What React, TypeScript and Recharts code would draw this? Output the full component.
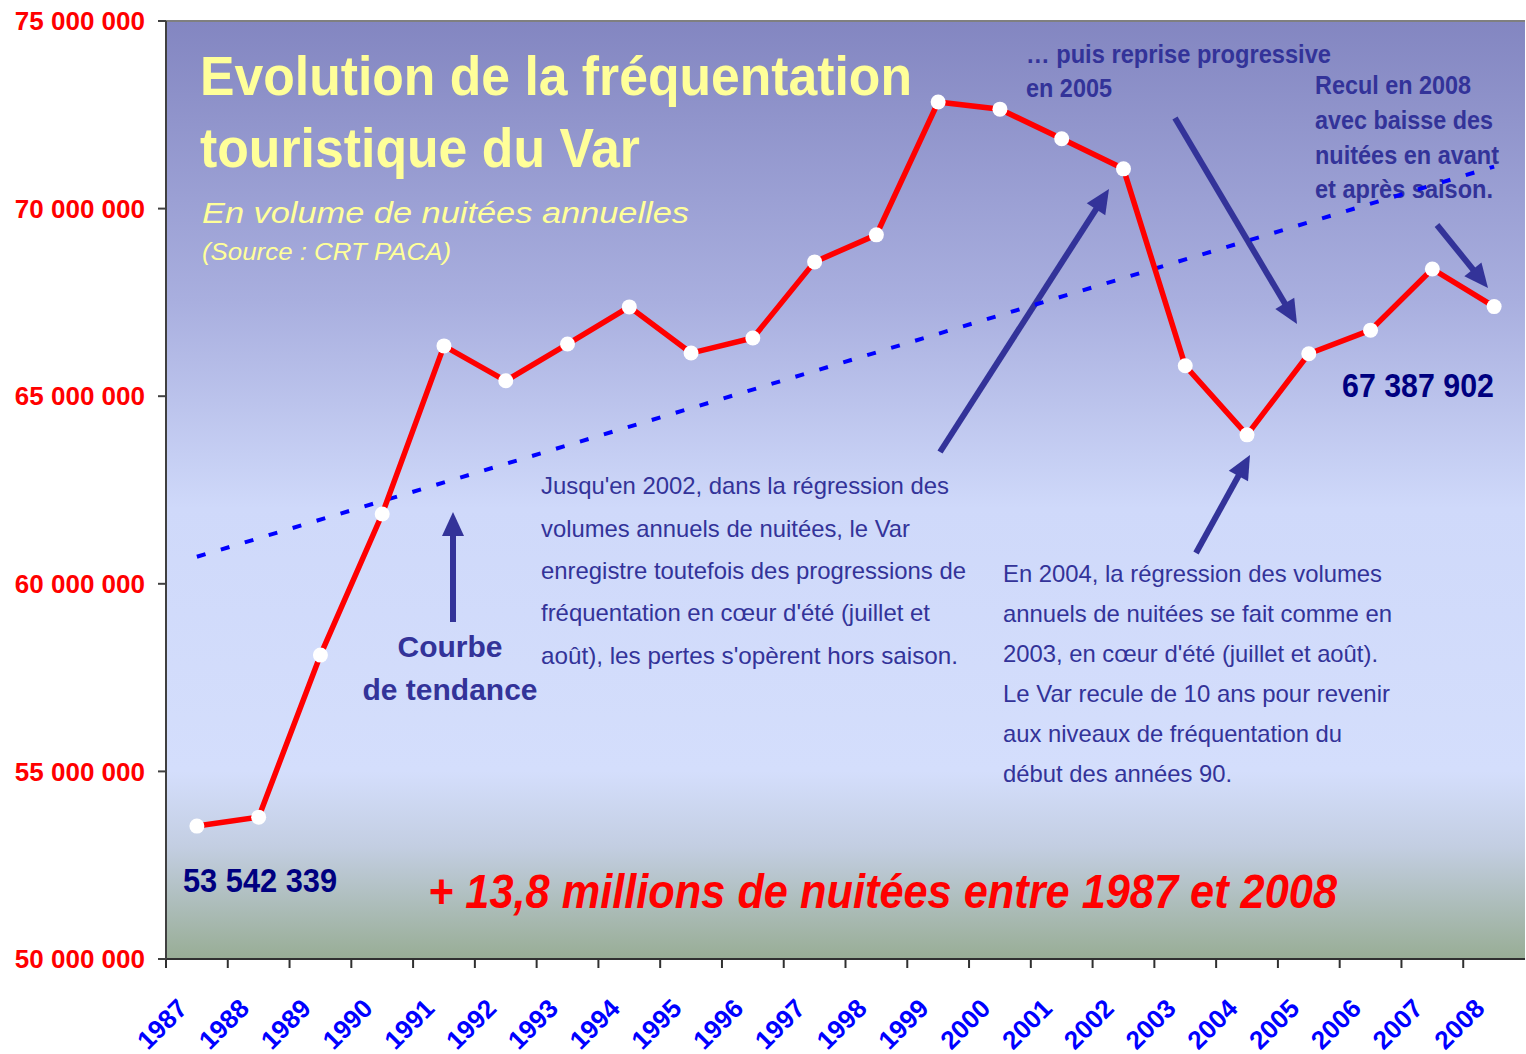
import React from "react";
import { LineChart, Line, XAxis, YAxis, CartesianGrid, ReferenceLine } from "recharts";

const years = [1987, 1988, 1989, 1990, 1991, 1992, 1993, 1994, 1995, 1996, 1997, 1998, 1999, 2000, 2001, 2002, 2003, 2004, 2005, 2006, 2007, 2008];
const nuitees = [53542339, 53780000, 58100000, 61860000, 66340000, 65410000, 66390000, 67380000, 66150000, 66550000, 68580000, 69300000, 72840000, 72650000, 71860000, 71060000, 65810000, 63970000, 66130000, 66760000, 68390000, 67387902];
const trendYears = [1987, 2008];
const trendValues = [60720000, 71120000];
const yTicks = [50000000, 55000000, 60000000, 65000000, 70000000, 75000000];

const data = years.map((y, i) => ({ x: i + 0.5, v: nuitees[i] }));
const trendData = trendYears.map((y, i) => ({ x: years.indexOf(y) + 0.5, t: trendValues[i] }));
const xTicks = years.map((_, i) => i);

const fmt = (v: number) => String(v).replace(/\B(?=(\d{3})+(?!\d))/g, " ");

const FONT = "'Liberation Sans', Arial, sans-serif";

const XTick = (props: any) => {
  const { x, y, payload } = props;
  const label = years[payload.value];
  if (label === undefined) return null;
  return (
    <text
      transform={`translate(${x + 23},${y + 42}) rotate(-45)`}
      textAnchor="end"
      fill="#0000ff"
      fontSize={26}
      fontWeight="bold"
      fontFamily={FONT}
    >
      {label}
    </text>
  );
};

const Arrow = ({ x1, y1, x2, y2 }: { x1: number; y1: number; x2: number; y2: number }) => {
  const dx = x2 - x1;
  const dy = y2 - y1;
  const len = Math.sqrt(dx * dx + dy * dy);
  const ux = dx / len;
  const uy = dy / len;
  const hl = 24;
  const hw = 11;
  const bx = x2 - ux * hl;
  const by = y2 - uy * hl;
  const px = -uy;
  const py = ux;
  return (
    <g>
      <line x1={x1} y1={y1} x2={bx + ux * 2} y2={by + uy * 2} stroke="#333399" strokeWidth={6} />
      <polygon
        points={`${x2},${y2} ${bx + px * hw},${by + py * hw} ${bx - px * hw},${by - py * hw}`}
        fill="#333399"
      />
    </g>
  );
};

const T = ({ x, y, w, size, children, fill = "#333399", bold = false, italic = false, anchor = "start" }: any) => (
  <text
    x={x}
    y={y}
    fontSize={size}
    fill={fill}
    fontFamily={FONT}
    fontWeight={bold ? "bold" : "normal"}
    fontStyle={italic ? "italic" : "normal"}
    textAnchor={anchor}
    textLength={w}
    lengthAdjust="spacingAndGlyphs"
  >
    {children}
  </text>
);

const Annotations = () => (
  <g>
    <T x={200} y={95} w={712} size={56} fill="#ffff99" bold>Evolution de la fréquentation</T>
    <T x={200} y={167} w={440} size={56} fill="#ffff99" bold>touristique du Var</T>
    <T x={202} y={223} w={487} size={29} fill="#ffff99" italic>En volume de nuitées annuelles</T>
    <T x={202} y={260} w={249} size={24} fill="#ffff99" italic>(Source : CRT PACA)</T>

    <T x={1026} y={63} w={305} size={25} bold>… puis reprise progressive</T>
    <T x={1026} y={97} w={86} size={25} bold>en 2005</T>
    <T x={1315} y={94} w={156} size={25} bold>Recul en 2008</T>
    <T x={1315} y={129} w={178} size={25} bold>avec baisse des</T>
    <T x={1315} y={164} w={184} size={25} bold>nuitées en avant</T>
    <T x={1315} y={198} w={178} size={25} bold>et après saison.</T>

    <T x={450} y={657} w={105} size={30} bold anchor="middle">Courbe</T>
    <T x={450} y={700} w={175} size={30} bold anchor="middle">de tendance</T>

    <T x={541} y={494} w={408} size={24}>Jusqu'en 2002, dans la régression des</T>
    <T x={541} y={537} w={369} size={24}>volumes annuels de nuitées, le Var</T>
    <T x={541} y={579} w={425} size={24}>enregistre toutefois des progressions de</T>
    <T x={541} y={621} w={389} size={24}>fréquentation en cœur d'été (juillet et</T>
    <T x={541} y={664} w={417} size={24}>août), les pertes s'opèrent  hors saison.</T>

    <T x={1003} y={582} w={379} size={24}>En 2004, la régression des volumes</T>
    <T x={1003} y={622} w={389} size={24}>annuels de nuitées se fait comme en</T>
    <T x={1003} y={662} w={375} size={24}>2003, en cœur d'été (juillet et août).</T>
    <T x={1003} y={702} w={387} size={24}>Le Var recule de 10 ans pour revenir</T>
    <T x={1003} y={742} w={339} size={24}>aux niveaux de fréquentation du</T>
    <T x={1003} y={782} w={229} size={24}>début des années 90.</T>

    <T x={183} y={892} w={154} size={33} fill="#000080" bold>{fmt(nuitees[0])}</T>
    <T x={1342} y={397} w={152} size={33} fill="#000080" bold>{fmt(nuitees[nuitees.length - 1])}</T>

    <T x={428} y={908} w={909} size={48} fill="#ff0000" bold italic>+ 13,8 millions de nuitées entre 1987 et 2008</T>

    <Arrow x1={453} y1={622} x2={453} y2={512} />
    <Arrow x1={940} y1={452} x2={1109} y2={189} />
    <Arrow x1={1175} y1={118} x2={1297} y2={324} />
    <Arrow x1={1196} y1={553} x2={1250} y2={455} />
    <Arrow x1={1437} y1={225} x2={1488} y2={288} />
  </g>
);

export default function App() {
  return (
    <div style={{ position: "absolute", left: 0, top: 0, width: 1526, height: 1054, background: "#ffffff" }}>
      <LineChart width={1526} height={1054} data={data} margin={{ top: 21, right: 1, bottom: 0, left: 0 }}>
        <defs>
          <linearGradient id="bgGrad" x1="0" y1="0" x2="0" y2="1">
            <stop offset="0" stopColor="#8386c1" />
            <stop offset="0.3" stopColor="#a9afdf" />
            <stop offset="0.52" stopColor="#cfd9fa" />
            <stop offset="0.8" stopColor="#d4defc" />
            <stop offset="0.88" stopColor="#c3cee2" />
            <stop offset="1" stopColor="#98ad95" />
          </linearGradient>
        </defs>
        <CartesianGrid horizontal={false} vertical={false} fill="url(#bgGrad)" stroke="none" />
        <XAxis
          dataKey="x"
          type="number"
          domain={[0, 22]}
          ticks={xTicks}
          interval={0}
          allowDataOverflow
          height={95}
          tickSize={9}
          tickMargin={0}
          stroke="#303030"
          strokeWidth={2}
          tick={<XTick />}
        />
        <YAxis
          type="number"
          domain={[50000000, 75000000]}
          ticks={yTicks}
          interval={0}
          width={166}
          tickSize={8}
          tickMargin={13}
          stroke="#404040"
          strokeWidth={2}
          tickFormatter={fmt}
          tick={{ fill: "#ff0000", fontSize: 26, fontWeight: "bold", fontFamily: FONT }}
        />
        <ReferenceLine y={75000000} stroke="#7f7f7f" strokeWidth={2} />
        <Annotations />
        <Line
          data={trendData}
          dataKey="t"
          type="linear"
          stroke="#0000ff"
          strokeWidth={4}
          strokeDasharray="9 16"
          dot={false}
          activeDot={false}
          isAnimationActive={false}
        />
        <Line
          dataKey="v"
          type="linear"
          stroke="#ff0000"
          strokeWidth={5.5}
          dot={{ r: 7.5, fill: "#ffffff", stroke: "none" }}
          activeDot={false}
          isAnimationActive={false}
        />
      </LineChart>
    </div>
  );
}
